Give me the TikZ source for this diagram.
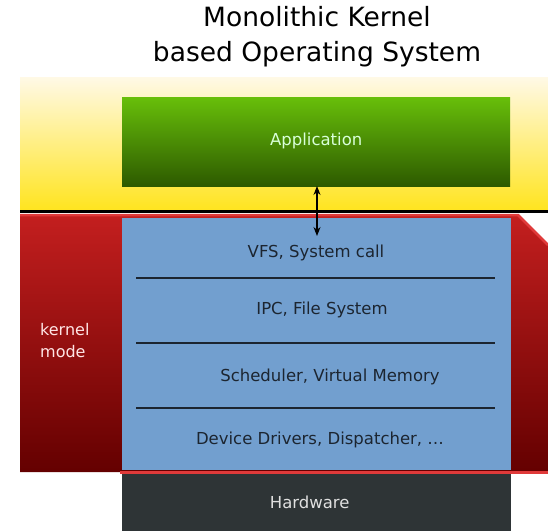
\documentclass[tikz,border=0pt]{standalone}
\usepackage{fontspec}
\setmainfont{DejaVu Sans}
\usetikzlibrary{arrows.meta}
\definecolor{bluebox}{HTML}{729FCF}
\definecolor{hw}{HTML}{2E3436}
\definecolor{redline}{HTML}{E03A3A}
\definecolor{redtop}{HTML}{C41F1F}
\definecolor{redbot}{HTML}{640000}
\definecolor{yeltop}{HTML}{FFF9E6}
\definecolor{yelbot}{HTML}{FFE41E}
\definecolor{grtop}{HTML}{68BF0A}
\definecolor{grbot}{HTML}{2D5A00}
\definecolor{txtdark}{HTML}{1C2530}
\tikzset{
  bodyfont/.style={font=\fontsize{16.5}{20}\selectfont},
  layertext/.style={bodyfont, text=txtdark, anchor=center},
  sepline/.style={draw=txtdark, line width=1.1pt},
  titletext/.style={font=\fontsize{26.5}{35}\selectfont, text=black, align=center},
  dblarrow/.style={{Stealth[length=9pt,width=7pt]}-{Stealth[length=9pt,width=7pt]}, line width=1.1pt},
}
\begin{document}
\begin{tikzpicture}[x=1pt,y=-1pt]
\useasboundingbox (0,0) rectangle (548,531);
\fill[white] (0,0) rectangle (548,531);
% user area
\shade[top color=yeltop, bottom color=yelbot] (20,77) rectangle (548,211);
% kernel area
\shade[top color=redtop, bottom color=redbot] (20,214) -- (518,214) -- (548,244) -- (548,472) -- (20,472) -- cycle;
\draw[redline, line width=2.5pt] (20,215) -- (518,215) -- (548,245);
\draw[black, line width=3pt] (20,211) -- (548,211);
% blue kernel box
\node[fill=bluebox, minimum width=389pt, minimum height=252pt, inner sep=0pt, anchor=north west] (kernel) at (122,218) {};
% hardware
\node[fill=hw, minimum width=389pt, minimum height=58pt, inner sep=0pt, anchor=north west, text=white!88!black, bodyfont] (hardware) at (122,473) {\hspace{-14pt}Hardware};
\draw[redline, line width=3pt] (120,472) -- (548,472);
% application
\shade[top color=grtop, bottom color=grbot] (122,97) rectangle (510,186);
\node[minimum width=388pt, minimum height=89pt, inner sep=0pt, anchor=north west, text=white!85!green, bodyfont] (app) at (122,96) {Application};
% layers
\node[layertext] (vfs) at (316,253) {VFS, System call};
\node[layertext] (ipc) at (322,310) {IPC, File System};
\node[layertext] (sched) at (330,377) {Scheduler, Virtual Memory};
\node[layertext] (dev) at (320,440) {Device Drivers, Dispatcher, \dots};
\draw[sepline] (136,278) -- (495,278);
\draw[sepline] (136,343) -- (495,343);
\draw[sepline] (136,408) -- (495,408);
% kernel mode label
\node[anchor=west, align=left, text=white!90!red, font=\fontsize{16}{22}\selectfont, inner sep=0pt] (km) at (40,341) {kernel\\mode};
% arrow
\coordinate (arrBot) at (317,236);
\draw[dblarrow] (317,186) -- (arrBot);
% title
\node[titletext] (title) at (317,37) {Monolithic Kernel\\based Operating System};
\end{tikzpicture}
\end{document}
